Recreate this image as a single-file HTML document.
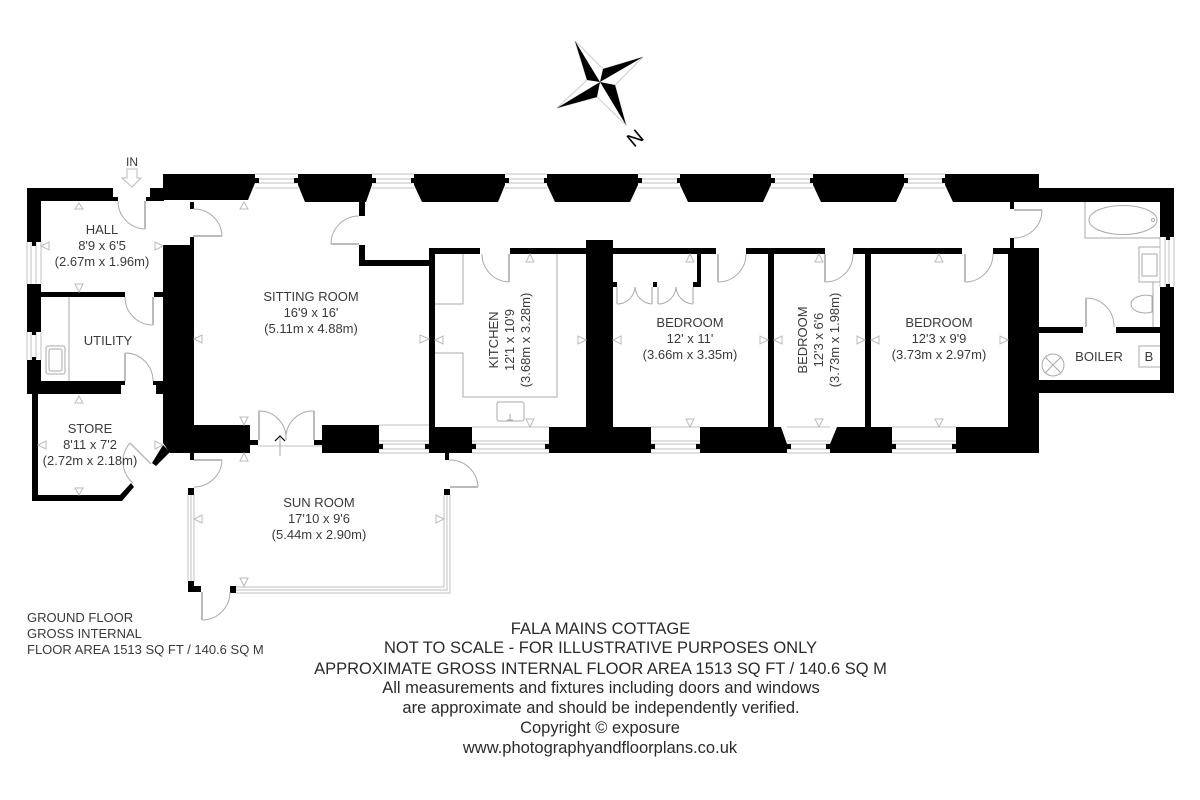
<!DOCTYPE html>
<html><head><meta charset="utf-8"><title>Fala Mains Cottage floor plan</title>
<style>
html,body{margin:0;padding:0;background:#fff}
svg{display:block}
text{font-family:"Liberation Sans",sans-serif;fill:#3a3a3a;font-size:13px}
.m{text-anchor:middle}
.f{font-size:16.5px;fill:#2a2a2a;text-anchor:middle}
.w path,.w rect,.w polygon{fill:#000;stroke:none}
.l{fill:none;stroke:#aaa;stroke-width:1}
.g{fill:none;stroke:#ccc;stroke-width:1.2}
.t{fill:#fff;stroke:#bbb;stroke-width:1}
.d{fill:none;stroke:#bbb;stroke-width:2}
</style></head><body>
<svg xmlns="http://www.w3.org/2000/svg" width="1200" height="800" viewBox="0 0 1200 800">
<rect width="1200" height="800" fill="#fff"/>

<!-- compass -->
<g>
<path class="g" d="M575 41L603 69L643 57L615 85L626 125L597 97L557 108L587 80Z" style="stroke:#ccc;stroke-width:1"/>
<polygon points="575,41 587,80 600,82" fill="#000"/>
<polygon points="643,57 603,69 600,82" fill="#000"/>
<polygon points="626,125 615,85 600,82" fill="#000"/>
<polygon points="557,108 597,97 600,82" fill="#000"/>
<text x="0" y="0" transform="translate(635,138) rotate(-40)" text-anchor="middle" dy="7" style="font-size:20px;fill:#000">N</text>
</g>

<!-- windows -->
<g class="g">
<path d="M255 174H298M255 179H298M255 183H298M255 188H298"/>
<path d="M372 174H414M372 179H414M372 183H414M372 188H414"/>
<path d="M505 174H547M505 179H547M505 183H547M505 188H547"/>
<path d="M638 174H680M638 179H680M638 183H680M638 188H680"/>
<path d="M771 174H813M771 179H813M771 183H813M771 188H813"/>
<path d="M904 174H945M904 179H945M904 183H945M904 188H945"/>
<path d="M27 242V284M31 242V284M36 242V284M41 242V284"/>
<path d="M27 332V360M31 332V360M36 332V360M41 332V360"/>
<path d="M1160 237V287M1165 237V287M1169 237V287M1174 237V287"/>
<path d="M379 425H429M379 441H429M379 444H429M379 449H429M379 453H429"/>
<path d="M472 427H549M472 441H549M472 444H549M472 449H549M472 453H549"/>
<path d="M651 427H700M651 441H700M651 444H700M651 449H700M651 453H700"/>
<path d="M787 427H830M787 441H830M787 444H830M787 449H830M787 453H830"/>
<path d="M892 427H956M892 441H956M892 444H956M892 449H956M892 453H956"/>
<path d="M188 495V581M194 495V581M191 495V581"/>
<path d="M444 495V587H236M450 495V593H236M447 495V590H236"/>
<path d="M258 446H322"/>
</g>

<!-- walls -->
<g class="w">
<!-- top piers -->
<polygon points="163,174 255,174 255,183 248,200 163,200"/>
<rect x="150" y="188" width="14" height="13"/>
<rect x="255" y="178" width="4" height="5"/>
<polygon points="298,174 372,174 372,185 366,202 305,202 298,185"/>
<polygon points="414,174 505,174 505,185 498,202 422,202 414,185"/>
<polygon points="547,174 638,174 638,185 630,202 555,202 547,185"/>
<polygon points="680,174 771,174 771,185 763,202 688,202 680,185"/>
<polygon points="813,174 904,174 904,185 896,202 821,202 813,185"/>
<polygon points="945,174 1039,174 1039,202 953,202 945,185"/>
<rect x="294" y="178" width="4" height="5"/><rect x="372" y="178" width="4" height="5"/><rect x="411" y="178" width="4" height="5"/><rect x="505" y="178" width="4" height="5"/><rect x="544" y="178" width="4" height="5"/><rect x="638" y="178" width="4" height="5"/><rect x="677" y="178" width="4" height="5"/><rect x="771" y="178" width="4" height="5"/><rect x="810" y="178" width="4" height="5"/><rect x="904" y="178" width="4" height="5"/><rect x="942" y="178" width="4" height="5"/>
<!-- hall -->
<polygon points="27,188 113,188 113,197 118,197 118,201 41,201 41,242 36,242 36,246 32,246 32,242 27,242"/>
<rect x="146" y="197" width="6" height="4"/>
<rect x="190" y="202" width="4" height="7"/>
<polygon points="32,284 36,284 36,282 36,284 41,284 41,332 36,332 36,335 32,335 32,332 27,332 27,284"/>
<rect x="41" y="292" width="84" height="5"/>
<rect x="154" y="292" width="10" height="5"/>
<!-- central thick wall -->
<polygon points="163,245 190,245 190,237 194,237 194,425 250,425 250,440 258,440 258,445 250,445 250,453 170,453 163,443"/>
<!-- utility/store -->
<polygon points="32,357 36,357 36,360 41,360 41,381 125,381 125,385 121,385 121,394 38,394 38,495 120,495 131,483 134,487 122,501 32,501 32,394 27,394 27,360 32,360"/>
<polygon points="153,381 164,381 164,394 156,394 156,385 153,385"/>
<polygon points="152,463 156,466 170,452 163,445"/>
<!-- sitting -->
<polygon points="314,440 322,440 322,445 314,445"/>
<rect x="322" y="425" width="57" height="28"/>
<rect x="379" y="444" width="4" height="5"/>
<!-- hall/corridor -->
<polygon points="359,202 365,202 365,216 359,216"/>
<polygon points="359,245 365,245 365,260 430,260 430,266 359,266"/>
<!-- kitchen walls -->
<polygon points="429,248 480,248 480,254 435,254 435,427 429,427"/>
<rect x="510" y="248" width="80" height="6"/>
<rect x="429" y="427" width="43" height="26"/>
<rect x="425" y="444" width="4" height="5"/><rect x="472" y="444" width="4" height="5"/>
<rect x="445" y="453" width="4" height="7"/>
<rect x="586" y="240" width="27" height="190"/>
<rect x="549" y="427" width="102" height="26"/>
<rect x="545" y="444" width="4" height="5"/><rect x="651" y="444" width="4" height="5"/>
<!-- bedroom walls -->
<rect x="612" y="248" width="104" height="6"/>
<rect x="697" y="252" width="4" height="34"/>
<rect x="693" y="282" width="8" height="5"/>
<rect x="612" y="282" width="5" height="5"/>
<rect x="653" y="282" width="4" height="5"/>
<rect x="746" y="248" width="79" height="6"/>
<rect x="768" y="254" width="6" height="175"/>
<polygon points="700,427 781,427 787,444 787,453 700,453"/>
<rect x="696" y="444" width="4" height="5"/><rect x="787" y="444" width="4" height="5"/>
<rect x="853" y="248" width="109" height="6"/>
<rect x="865" y="254" width="6" height="175"/>
<polygon points="837,427 892,427 892,453 830,453 830,444"/>
<rect x="826" y="444" width="4" height="5"/><rect x="892" y="444" width="4" height="5"/>
<rect x="993" y="248" width="16" height="6"/>
<rect x="1008" y="248" width="31" height="205"/>
<rect x="956" y="427" width="83" height="26"/>
<rect x="952" y="444" width="4" height="5"/>
<rect x="1010" y="202" width="4" height="7"/><rect x="1010" y="238" width="4" height="10"/>
<!-- right wing -->
<polygon points="1039,188 1174,188 1174,237 1170,237 1170,240 1166,240 1166,237 1160,237 1160,202 1039,202"/>
<polygon points="1160,287 1166,287 1166,284 1170,284 1170,287 1174,287 1174,393 1039,393 1039,380 1160,380"/>
<rect x="1039" y="327" width="44" height="6"/>
<rect x="1116" y="327" width="44" height="6"/>
<!-- sun room posts -->
<rect x="190" y="453" width="4" height="7"/>
<rect x="188" y="488" width="6" height="7"/>
<polygon points="188,581 194,581 194,586 201,586 201,592 188,592"/>
<rect x="230" y="586" width="6" height="7"/>
<rect x="444" y="489" width="6" height="6"/>
</g>

<!-- doors -->
<g class="l">
<path d="M118 201A28 28 0 0 0 145 229"/>
<path d="M193 209A28 28 0 0 1 222 236"/>
<path d="M125 297A28 28 0 0 0 153 325"/>
<path d="M125 353A28 28 0 0 1 153 381"/>
<path d="M130 443A28 28 0 0 0 133 483"/>
<path d="M359 216A28 28 0 0 0 331 244"/>
<path d="M482 254A28 28 0 0 0 509 282"/>
<path d="M746 254A28 28 0 0 1 718 282"/>
<path d="M853 254A28 28 0 0 1 825 282"/>
<path d="M993 254A28 28 0 0 1 965 282"/>
<path d="M617 304A18 18 0 0 0 635 287"/><path d="M652 304A18 18 0 0 1 635 287"/>
<path d="M658 304A18 18 0 0 0 676 287"/><path d="M693 304A18 18 0 0 1 676 287"/>
<path d="M1086 298A28 28 0 0 1 1114 327"/>
<path d="M258 411A27 27 0 0 1 286 440"/><path d="M314 411A27 27 0 0 0 286 440"/>
<path d="M1042 210A28 28 0 0 1 1014 238"/>
<path d="M194 487A28 28 0 0 0 222 460"/>
<path d="M449 460A28 28 0 0 1 478 487"/>
<path d="M202 620A28 28 0 0 0 230 592"/>
</g>
<g class="d">
<path d="M145 201V229"/>
<path d="M193 236H222"/>
<path d="M153 297V325"/>
<path d="M125 353V381"/>
<path d="M130 443L151 464" stroke-width="1.5"/>
<path d="M331 244H359"/>
<path d="M509 254V282"/><path d="M718 254V282"/><path d="M825 254V282"/><path d="M965 254V282"/>
<path d="M617 287V304M652 287V304M658 287V304M693 287V304" style="stroke-width:1.4"/>
<path d="M1086 298V327"/>
<path d="M259 411V440M314 411V440"/>
<path d="M1014 210H1042"/>
<path d="M194 460H222"/>
<path d="M450 487H478"/>
<path d="M202 592V620"/>
</g>
<path d="M275 441L280 436L285 441" fill="none" stroke="#000" stroke-width="1.2"/>
<path d="M280 438V456" class="l"/>
<!-- IN arrow -->
<polygon class="t" points="127,169 137,169 137,178 141,178 132,187 122,178 127,178"/>

<!-- fixtures -->
<g class="l">
<path d="M463 254V304H435M435 353H463V397H557V254"/>
<rect x="497" y="402" width="27" height="19" rx="2"/>
<path d="M507 420h6M510 414v6"/>
<path d="M69 297V381"/>
<rect x="46" y="346" width="19" height="28" rx="2"/>
<rect x="49" y="349" width="13" height="22" rx="2"/>
<path d="M1085 202V238H1160"/>
<ellipse cx="1123" cy="220" rx="34" ry="14.500"/>
<circle cx="1153" cy="220" r="1.500"/>
<path d="M1160 247H1139V282H1160"/>
<rect x="1142" y="254" width="15" height="22"/>
<path d="M1153 282V327"/>
<path d="M1152 296C1140 293 1131 299 1131 304C1131 310 1140 315 1152 312Z"/>
<circle cx="1053" cy="365" r="11"/>
<path d="M1045 357L1061 373M1061 357L1045 373"/>
<path d="M1160 346H1139V367H1160"/>
</g>

<!-- dimension markers -->
<g class="t">
<polygon points="79,203 75,209 83,209"/><polygon points="41,246 49,242 49,250"/><polygon points="163,246 155,242 155,250"/><polygon points="79,292 75,284 83,284"/>
<polygon points="79,396 75,403 83,403"/><polygon points="38,445 46,441 46,449"/><polygon points="163,445 155,441 155,449"/><polygon points="79,495 75,488 83,488"/>
<polygon points="244,202 240,209 248,209"/>
<polygon points="194,339 202,335 202,343"/><polygon points="429,339 420,335 420,343"/><polygon points="244,425 240,417 248,417"/><polygon points="244,453 240,461 248,461"/>
<polygon points="194,519 202,515 202,523"/><polygon points="444,519 436,515 436,523"/><polygon points="244,586 240,578 248,578"/>
<polygon points="530,254 526,262 534,262"/><polygon points="435,340 443,336 443,344"/><polygon points="586,340 578,336 578,344"/><polygon points="530,427 526,419 534,419"/>
<polygon points="690,254 686,262 694,262"/><polygon points="613,340 621,336 621,344"/><polygon points="768,340 760,336 760,344"/><polygon points="690,427 686,419 694,419"/>
<polygon points="819,254 815,262 823,262"/><polygon points="774,340 782,336 782,344"/><polygon points="865,340 857,336 857,344"/><polygon points="819,427 815,419 823,419"/>
<polygon points="939,254 935,262 943,262"/><polygon points="871,340 879,336 879,344"/><polygon points="1008,340 1000,336 1000,344"/><polygon points="939,427 935,419 943,419"/>
</g>

<!-- labels -->
<text x="132" y="166" class="m" style="font-size:12px">IN</text>
<text x="102" y="234" class="m">HALL</text><text x="102" y="250" class="m">8'9 x 6'5</text><text x="102" y="266" class="m">(2.67m x 1.96m)</text>
<text x="108" y="345" class="m">UTILITY</text>
<text x="90" y="433" class="m">STORE</text><text x="90" y="449" class="m">8'11 x 7'2</text><text x="90" y="465" class="m">(2.72m x 2.18m)</text>
<text x="311" y="301" class="m">SITTING ROOM</text><text x="311" y="317" class="m">16'9 x 16'</text><text x="311" y="333" class="m">(5.11m x 4.88m)</text>
<text x="319" y="507" class="m">SUN ROOM</text><text x="319" y="523" class="m">17'10 x 9'6</text><text x="319" y="539" class="m">(5.44m x 2.90m)</text>
<g transform="translate(498,340) rotate(-90)"><text class="m">KITCHEN</text><text class="m" y="16">12'1 x 10'9</text><text class="m" y="32">(3.68m x 3.28m)</text></g>
<text x="690" y="327" class="m">BEDROOM</text><text x="690" y="343" class="m">12' x 11'</text><text x="690" y="359" class="m">(3.66m x 3.35m)</text>
<g transform="translate(807,340) rotate(-90)"><text class="m">BEDROOM</text><text class="m" y="16">12'3 x 6'6</text><text class="m" y="32">(3.73m x 1.98m)</text></g>
<text x="939" y="327" class="m">BEDROOM</text><text x="939" y="343" class="m">12'3 x 9'9</text><text x="939" y="359" class="m">(3.73m x 2.97m)</text>
<text x="1099" y="361" class="m">BOILER</text>
<text x="1149" y="361" class="m">B</text>

<text x="27" y="622">GROUND FLOOR</text>
<text x="27" y="638">GROSS INTERNAL</text>
<text x="27" y="654">FLOOR AREA 1513 SQ FT / 140.6 SQ M</text>

<text x="600.500" y="634" class="f">FALA MAINS COTTAGE</text>
<text x="600.500" y="653" class="f">NOT TO SCALE - FOR ILLUSTRATIVE PURPOSES ONLY</text>
<text x="600.500" y="674" class="f">APPROXIMATE GROSS INTERNAL FLOOR AREA 1513 SQ FT / 140.6 SQ M</text>
<text x="601" y="693" class="f">All measurements and fixtures including doors and windows</text>
<text x="601" y="713" class="f">are approximate and should be independently verified.</text>
<text x="600" y="733" class="f">Copyright © exposure</text>
<text x="600" y="753" class="f">www.photographyandfloorplans.co.uk</text>
</svg>
</body></html>
